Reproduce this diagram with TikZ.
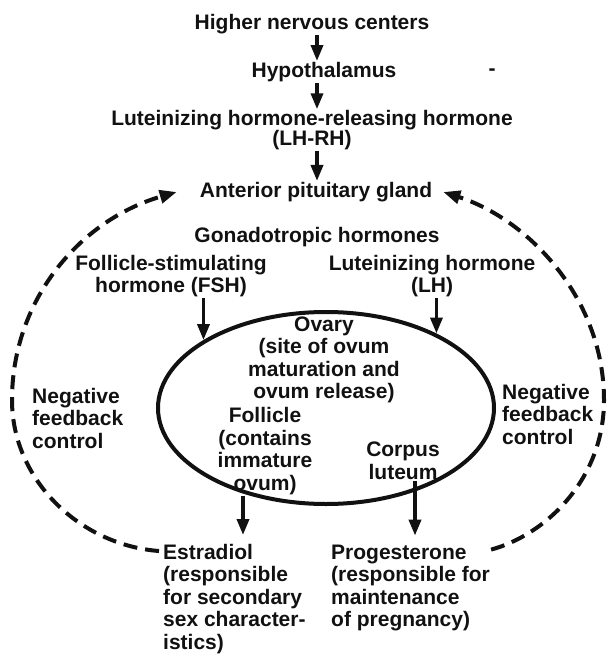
\documentclass[tikz,border=0pt]{standalone}
\usepackage{fontspec}
\setmainfont{Liberation Sans}
\usepackage{tikz}
\usetikzlibrary{positioning,arrows.meta,shapes.geometric}
\definecolor{Ink}{HTML}{111111}

\begin{document}
\begin{tikzpicture}[x=1pt,y=-1pt, every node/.style={align=center,inner sep=1pt,text=Ink,font=\bfseries\fontsize{21}{22.5}\selectfont}, arr/.style={-{Triangle[length=16pt,width=12pt]},line width=3.6pt,Ink}, fb/.style={-{Triangle[length=17pt,width=13pt]},line width=4pt,dash pattern=on 14pt off 8pt,Ink}]
\useasboundingbox (0,0) rectangle (607,660);
\node (hnc) at (312,24) {Higher nervous centers};
\node (hyp) at (324,72) {Hypothalamus};
\node (dash) at (492,72) {-};
\node (lhrh) at (312,130) {Luteinizing hormone-releasing hormone\\[-3pt](LH-RH)};
\node (ant) at (316,192) {Anterior pituitary gland};
\node (gon) at (317,237) {Gonadotropic hormones};
\node (fsh) at (171,276) {Follicle-stimulating\\hormone (FSH)};
\node (lh) at (432,276) {Luteinizing hormone\\(LH)};
\node[draw=Ink,ellipse,line width=4pt,minimum width=336pt,minimum height=192pt,inner sep=0pt] (ovary) at (326,408) {};
\node (ovtxt) at (324,360) {Ovary\\(site of ovum\\maturation and\\ovum release)};
\node (foll) at (265,451) {Follicle\\(contains\\immature\\ovum)};
\node (corp) at (403,461) {Corpus\\luteum};
\node[anchor=west,align=left] (fbl) at (31,418) {Negative\\feedback\\control};
\node[anchor=west,align=left] (fbr) at (501,414) {Negative\\feedback\\control};
\node[anchor=west,align=left] (estr) at (162,599) {Estradiol\\(responsible\\for secondary\\sex character-\\istics)};
\node[anchor=west,align=left] (prog) at (330,588) {Progesterone\\(responsible for\\maintenance\\of pregnancy)};
\draw[arr] ([xshift=5pt]hnc.south) -- ([xshift=5pt]hnc.south |- hyp.north);
\draw[arr] ([xshift=-7pt]hyp.south) -- ([xshift=-7pt]hyp.south |- lhrh.north);
\draw[arr] ([xshift=5pt]lhrh.south) -- ([xshift=5pt]lhrh.south |- ant.north);
\draw[arr] (ovary.151 |- fsh.south) -- (ovary.151);
\draw[arr] (ovary.34 |- lh.south) -- (ovary.34);
\draw[arr,shorten >=8pt] ([xshift=-22pt]foll.south) -- ([xshift=-22pt]foll.south |- estr.north);
\draw[arr,shorten >=8pt] ([xshift=12pt]corp.south) -- ([xshift=12pt]corp.south |- prog.north);
\draw[fb] ([xshift=-3pt,yshift=-8pt]estr.north west) .. controls (80,545) and (12,480) .. (12,400) .. controls (12,300) and (80,220) .. ([xshift=-22pt]ant.west);
\draw[fb] ([yshift=-6pt]prog.north east) .. controls (545,535) and (604,480) .. (604,400) .. controls (604,300) and (530,220) .. ([xshift=10pt]ant.east);
\end{tikzpicture}
\end{document}
